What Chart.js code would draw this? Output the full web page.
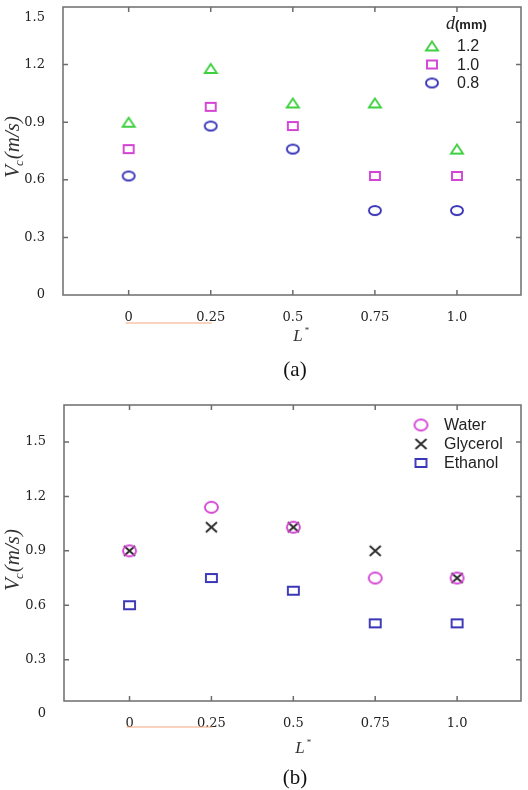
<!DOCTYPE html>
<html>
<head>
<meta charset="utf-8">
<script src="https://cdn.jsdelivr.net/npm/chart.js@4"></script>
<style>
  body { margin: 0; background: #fff; width: 528px; height: 790px; position: relative; overflow: hidden; }
  .wrap { position: absolute; left: 0; width: 528px; }
  #wrapA { top: 0; height: 360px; }
  #wrapB { top: 390px; height: 400px; }
  .cap { position: absolute; left: 245px; width: 100px; text-align: center; font: 21px "Liberation Serif", serif; color: #111; }
</style>
</head>
<body>
<div class="wrap" id="wrapA"><canvas id="chartA"></canvas></div>
<div class="cap" style="top:357px">(a)</div>
<div class="wrap" id="wrapB"><canvas id="chartB"></canvas></div>
<div class="cap" style="top:765px">(b)</div>
<script>
// shared axis values
const xValues = [0, 0.25, 0.5, 0.75, 1.0];
const xTickLabels = ['0', '0.25', '0.5', '0.75', '1.0'];
const yTickValues = [0, 0.3, 0.6, 0.9, 1.2, 1.5];
const yTickLabels = ['0', '0.3', '0.6', '0.9', '1.2', '1.5'];

// (a) nozzle diameter d (mm)
const seriesA = ['1.2', '1.0', '0.8'];
const vcD12 = [0.90, 1.18, 1.00, 1.00, 0.76];
const vcD10 = [0.76, 0.98, 0.88, 0.62, 0.62];
const vcD08 = [0.62, 0.88, 0.76, 0.44, 0.44];

// (b) fluids
const seriesB = ['Water', 'Glycerol', 'Ethanol'];
const vcWater = [0.90, 1.14, 1.03, 0.75, 0.75];
const vcGlycerol = [0.90, 1.03, 1.03, 0.90, 0.75];
const vcEthanol = [0.60, 0.75, 0.68, 0.50, 0.50];

const GREEN = '#3fd03f', MAGENTA = '#d444d4', BLUE = '#3a36b8', BLACK = '#2a2a2a';

// markers in the picture are a bit wider than tall, so draw them on small canvases
function marker(shape, color, w, h) {
    const c = document.createElement('canvas');
    c.width = w + 4;
    c.height = h + 4;
    const g = c.getContext('2d');
    const cx = c.width / 2, cy = c.height / 2;
    g.strokeStyle = color;
    g.lineWidth = 1.9;
    g.beginPath();
    if (shape === 'circle') {
        g.ellipse(cx, cy, w / 2, h / 2, 0, 0, Math.PI * 2);
    } else if (shape === 'rect') {
        g.rect(cx - w / 2, cy - h / 2, w, h);
    } else if (shape === 'triangle') {
        g.moveTo(cx, cy - h / 2);
        g.lineTo(cx + w / 2, cy + h / 2);
        g.lineTo(cx - w / 2, cy + h / 2);
        g.closePath();
    } else {
        g.moveTo(cx - w / 2, cy - h / 2);
        g.lineTo(cx + w / 2, cy + h / 2);
        g.moveTo(cx + w / 2, cy - h / 2);
        g.lineTo(cx - w / 2, cy + h / 2);
    }
    g.stroke();
    return c;
}

function points(vals) {
    return xValues.map((x, i) => ({ x: x, y: vals[i] }));
}

function dataset(label, vals, style) {
    return { label: label, data: points(vals), pointStyle: style, pointRadius: 6, showLine: false };
}

const framePlugin = {
    id: 'frame',
    afterDraw(chart, args, o) {
        const ctx = chart.ctx;
        const a = chart.chartArea;
        const x = chart.scales.x, y = chart.scales.y;
        ctx.save();

        // box with inward ticks
        ctx.strokeStyle = '#6c6c6c';
        ctx.lineWidth = 1.5;
        ctx.strokeRect(a.left, a.top, a.right - a.left, a.bottom - a.top);
        ctx.beginPath();
        xValues.forEach(v => {
            const px = x.getPixelForValue(v);
            ctx.moveTo(px, a.bottom); ctx.lineTo(px, a.bottom - 5);
            ctx.moveTo(px, a.top); ctx.lineTo(px, a.top + 5);
        });
        yTickValues.forEach(v => {
            if (v <= y.min || v >= y.max) return;
            const py = y.getPixelForValue(v);
            ctx.moveTo(a.left, py); ctx.lineTo(a.left + 5, py);
            ctx.moveTo(a.right, py); ctx.lineTo(a.right - 5, py);
        });
        ctx.stroke();

        // thin orange stroke under the first x labels
        ctx.strokeStyle = '#f3a77c';
        ctx.lineWidth = 1;
        ctx.beginPath();
        ctx.moveTo(x.getPixelForValue(0) - 3, o.underlineY);
        ctx.lineTo(x.getPixelForValue(0.25) + 1, o.underlineY);
        ctx.stroke();

        ctx.fillStyle = '#333';
        ctx.textBaseline = 'alphabetic';

        // y title: V_c(m/s)
        ctx.save();
        ctx.translate(o.yTitle[0], o.yTitle[1]);
        ctx.rotate(-Math.PI / 2);
        ctx.font = 'italic 21px "Liberation Serif"';
        const wV = ctx.measureText('V').width;
        const wP = ctx.measureText('(m/s)').width;
        ctx.font = 'italic 13px "Liberation Serif"';
        const wC = ctx.measureText('c').width;
        let tx = -(wV + wC + wP) / 2;
        ctx.font = 'italic 21px "Liberation Serif"';
        ctx.fillText('V', tx, 7);
        ctx.font = 'italic 13px "Liberation Serif"';
        ctx.fillText('c', tx + wV - 1, 11);
        ctx.font = 'italic 21px "Liberation Serif"';
        ctx.fillText('(m/s)', tx + wV + wC, 7);
        ctx.restore();

        // x title: L*
        ctx.font = 'italic 17px "Liberation Serif"';
        ctx.textAlign = 'center';
        ctx.fillText('L', o.xTitle[0], o.xTitle[1] + 6);
        ctx.font = '9px "Liberation Serif"';
        ctx.fillText('*', o.xTitle[0] + 9, o.xTitle[1] - 2);

        // legend
        const lg = o.legend;
        ctx.textAlign = 'left';
        ctx.textBaseline = 'middle';
        ctx.fillStyle = '#222';
        if (lg.title) {
            ctx.font = 'italic 18px "Liberation Serif"';
            ctx.fillText('d', lg.textX - 11, lg.y - lg.dy - 3);
            const wd = ctx.measureText('d').width;
            ctx.font = 'bold 13px "Liberation Sans"';
            ctx.fillText('(mm)', lg.textX - 11 + wd, lg.y - lg.dy - 2);
        }
        ctx.font = '16px "Liberation Sans"';
        chart.data.datasets.forEach((ds, i) => {
            const my = lg.y + i * lg.dy;
            const img = ds.pointStyle;
            ctx.drawImage(img, lg.markerX - img.width / 2, my - img.height / 2);
            ctx.fillText(ds.label, lg.textX, my + 1);
        });

        ctx.restore();
    }
};

function makeChart(id, datasets, cfg) {
    return new Chart(document.getElementById(id), {
        type: 'scatter',
        data: { datasets: datasets },
        options: {
            responsive: true,
            maintainAspectRatio: false,
            animation: false,
            events: [],
            layout: { padding: { left: 0, right: 6, top: cfg.top, bottom: 0 } },
            plugins: {
                legend: { display: false },
                tooltip: { enabled: false },
                frame: cfg.frame
            },
            scales: {
                x: {
                    type: 'linear',
                    min: -0.2,
                    max: 1.195,
                    grid: { display: false },
                    border: { display: false },
                    afterBuildTicks: s => { s.ticks = xValues.map(v => ({ value: v })); },
                    afterFit: s => { s.height = cfg.xHeight; s.paddingLeft = 0; s.paddingRight = 0; },
                    ticks: {
                        autoSkip: false,
                        maxRotation: 0,
                        padding: 7,
                        color: '#222',
                        font: { family: 'DejaVu Serif', size: 13 },
                        callback: (v, i) => xTickLabels[i]
                    }
                },
                y: {
                    min: cfg.yMin,
                    max: cfg.yMax,
                    grid: { display: false },
                    border: { display: false },
                    afterBuildTicks: s => { s.ticks = yTickValues.map(v => ({ value: v })); },
                    afterFit: s => { s.width = cfg.yWidth; s.paddingTop = 0; s.paddingBottom = 0; },
                    ticks: {
                        autoSkip: false,
                        padding: 10,
                        color: '#222',
                        font: { family: 'DejaVu Serif', size: 13, lineHeight: 1.6 },
                        callback: (v, i) => (cfg.pushTop && i === yTickLabels.length - 1) ? ['', yTickLabels[i]] : yTickLabels[i]
                    }
                }
            }
        },
        plugins: [framePlugin]
    });
}

makeChart('chartA', [
    dataset(seriesA[0], vcD12, marker('triangle', GREEN, 12, 9)),
    dataset(seriesA[1], vcD10, marker('rect', MAGENTA, 10, 8)),
    dataset(seriesA[2], vcD08, marker('circle', BLUE, 12, 9))
], {
    top: 5, xHeight: 65, yWidth: 63, yMin: 0, yMax: 1.5, pushTop: true,
    frame: {
        underlineY: 323,
        yTitle: [12, 147],
        xTitle: [298, 335],
        legend: { title: true, markerX: 432, textX: 457, y: 46, dy: 18.5 }
    }
});

makeChart('chartB', [
    dataset(seriesB[0], vcWater, marker('circle', MAGENTA, 13, 11)),
    dataset(seriesB[1], vcGlycerol, marker('cross', BLACK, 11, 10)),
    dataset(seriesB[2], vcEthanol, marker('rect', BLUE, 11, 8))
], {
    top: 15, xHeight: 89, yWidth: 64, yMin: 0.072, yMax: 1.704, pushTop: false,
    frame: {
        underlineY: 337,
        yTitle: [12, 170],
        xTitle: [300, 357],
        legend: { title: false, markerX: 421, textX: 444, y: 35, dy: 19 }
    }
});
</script>
</body>
</html>
